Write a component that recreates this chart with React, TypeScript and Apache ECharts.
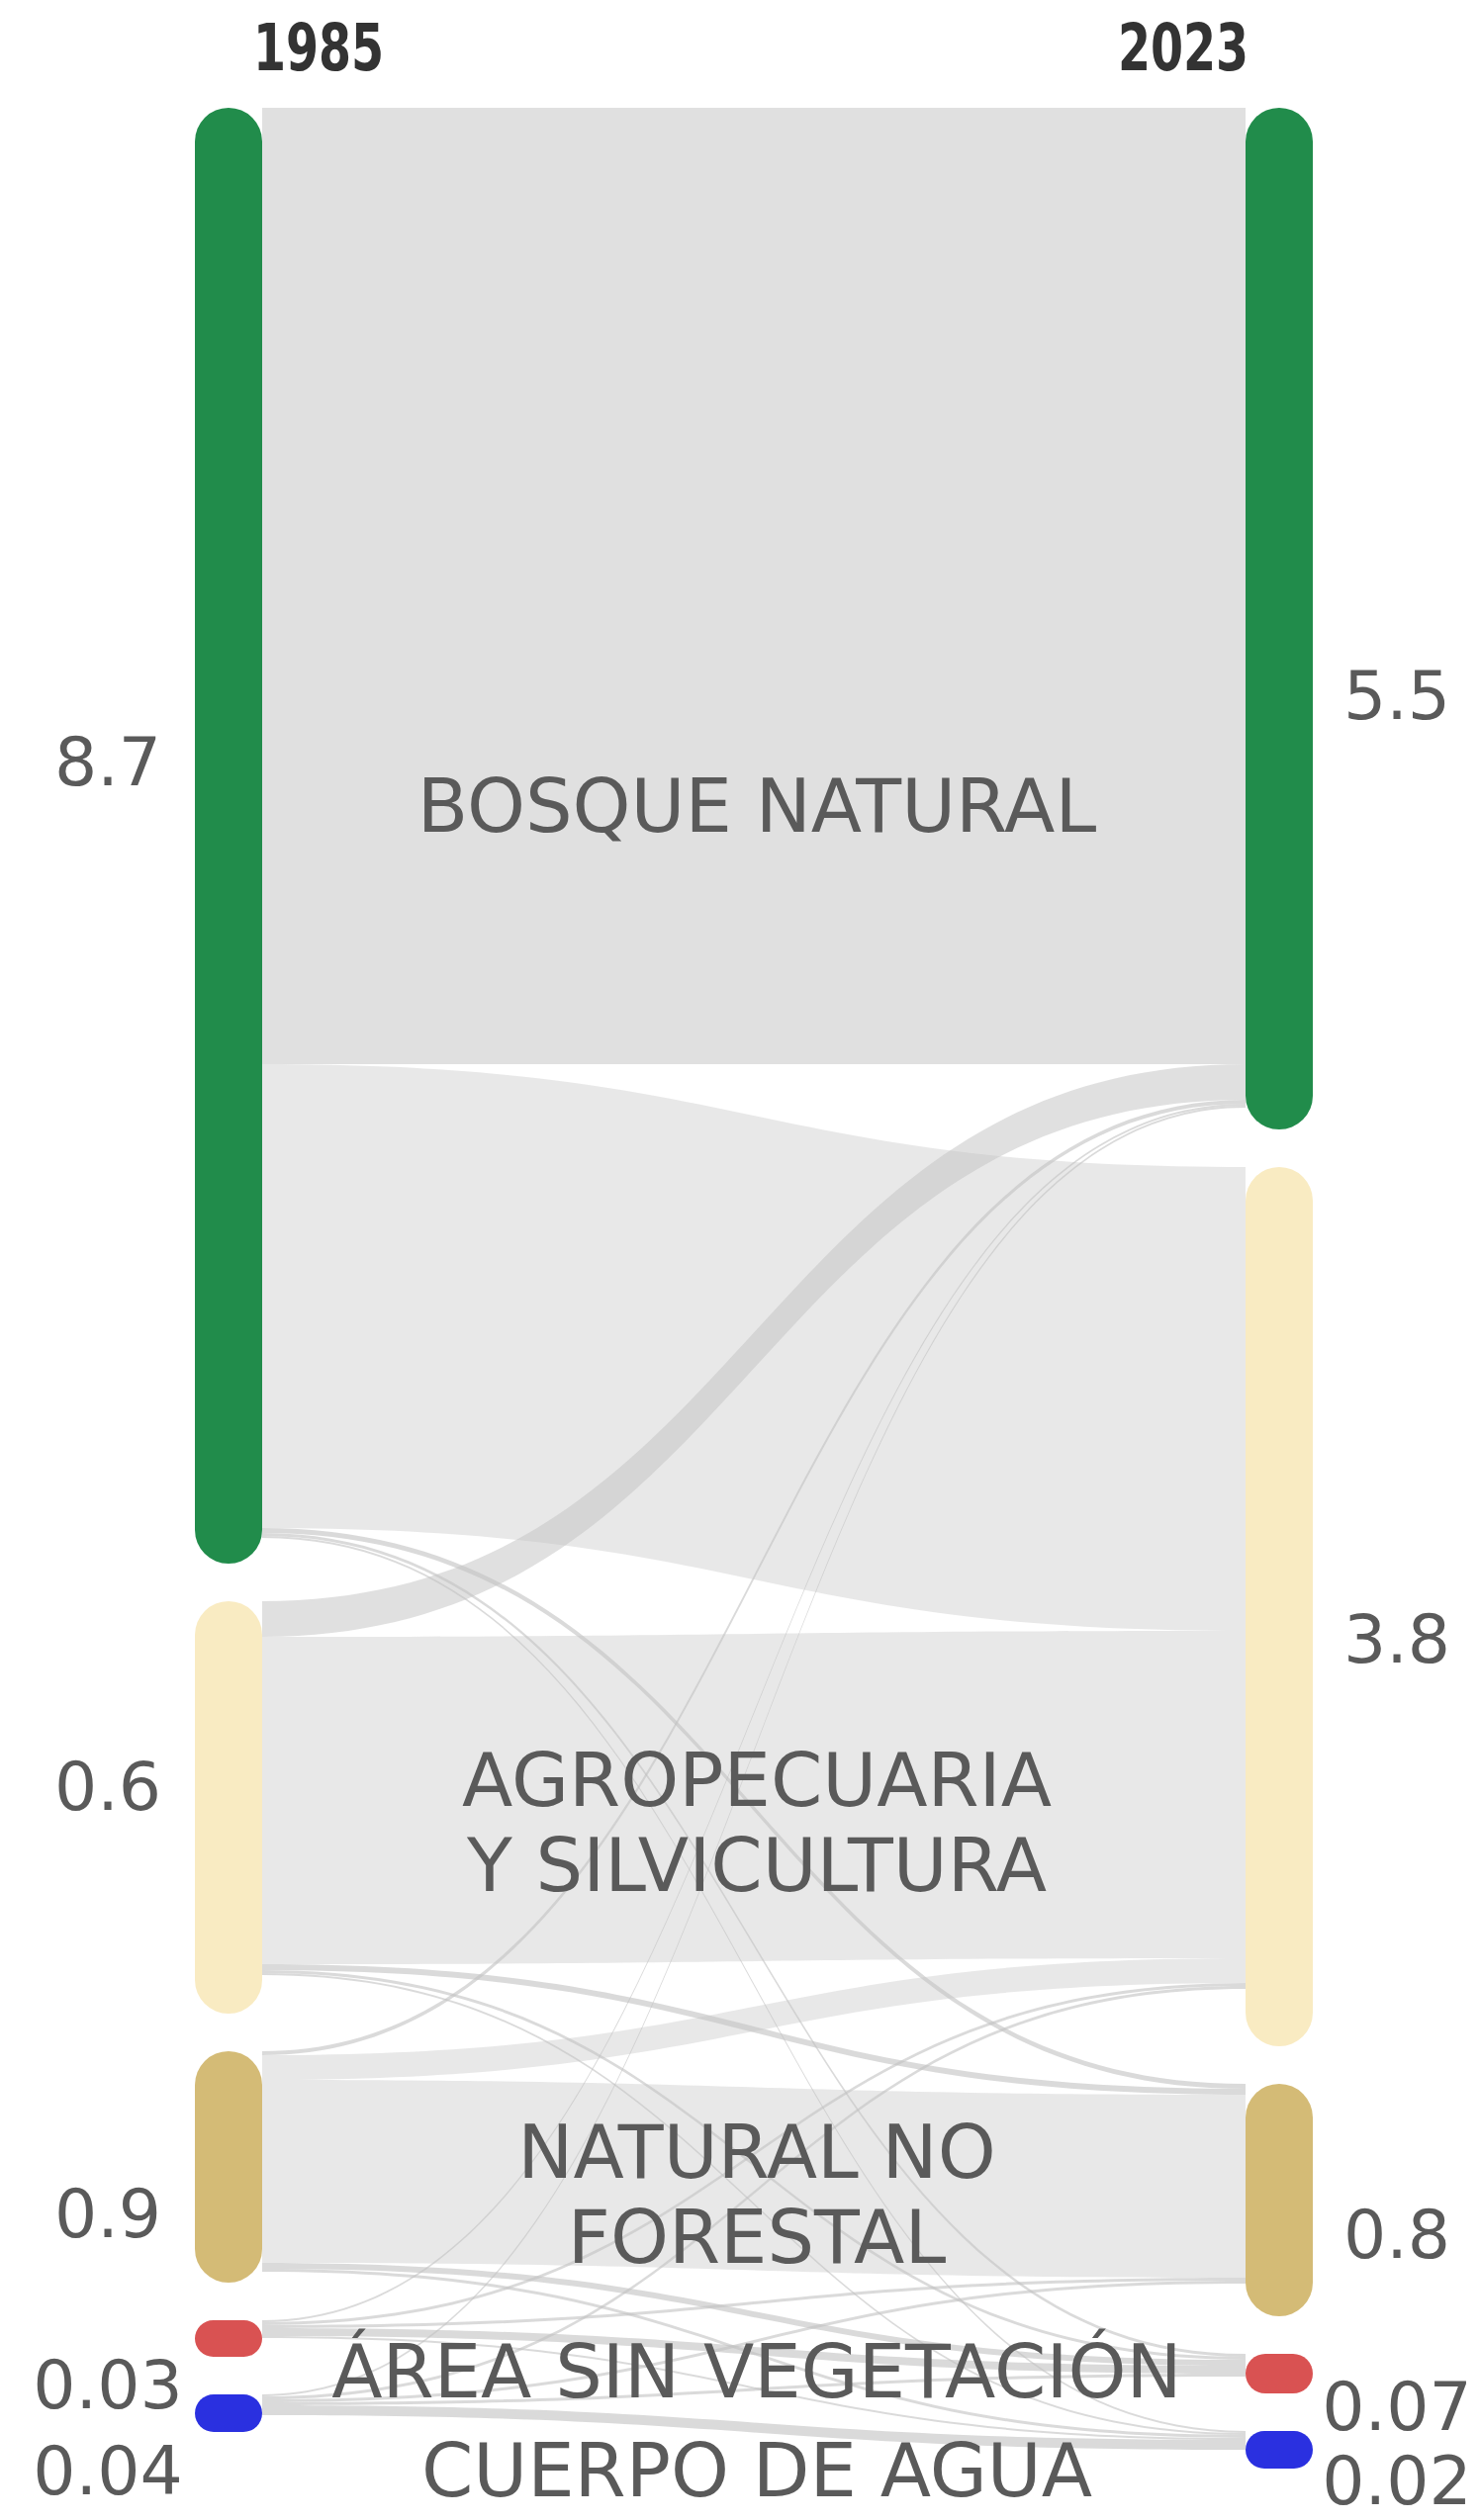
import React, { useEffect, useRef } from "react";
import * as echarts from "echarts";

// ---- data ----
const years = ["1985", "2023"];
const categories = [
  "BOSQUE NATURAL",
  "AGROPECUARIA Y SILVICULTURA",
  "NATURAL NO FORESTAL",
  "ÁREA SIN VEGETACIÓN",
  "CUERPO DE AGUA",
];
const categoryLines = [
  ["BOSQUE NATURAL"],
  ["AGROPECUARIA", "Y SILVICULTURA"],
  ["NATURAL NO", "FORESTAL"],
  ["ÁREA SIN VEGETACIÓN"],
  ["CUERPO DE AGUA"],
];
const labels1985 = ["8.7", "0.6", "0.9", "0.03", "0.04"];
const labels2023 = ["5.5", "3.8", "0.8", "0.07", "0.02"];
// drawn node sizes (relative units as seen in the picture)
const nodeSize1985 = [1472, 417, 234, 37, 38];
const nodeSize2023 = [1033, 889, 235, 40, 38];
// flow widths: rows = class in 1985, columns = class in 2023
const flows = [
  [967, 469, 5, 3, 2],
  [36, 331, 6, 3, 2],
  [4, 25, 185, 6, 3],
  [2, 3, 3, 8, 2],
  [2, 3, 3, 3, 10],
];
const nodeColors = ["#218c4b", "#f9ebc2", "#d4bb76", "#d95252", "#2a30e0"];

// ---- styling / layout ----
const W = 1496;
const H = 2548;
const TEXT = "#5a5a5a";
const FONT = '"DejaVu Sans", sans-serif';
const YEAR_FONT = '"DejaVu Sans Condensed", "DejaVu Sans", sans-serif';
const labelCenterY = [815, 1843, 2219, 2398, 2498];
const leftValueY = [770, 1806, 2238, 2411, 2498];
const rightValueY = [703, 1657, 2259, 2433, 2508];

export default function App() {
  const ref = useRef<HTMLDivElement>(null);

  useEffect(() => {
    if (!ref.current) return;
    const chart = echarts.init(ref.current, undefined, { renderer: "svg" });

    const nodes: any[] = [];
    categories.forEach((c, i) => {
      nodes.push({
        name: `${c} ${years[0]}`,
        value: nodeSize1985[i],
        itemStyle: { color: nodeColors[i], borderRadius: 34 },
      });
    });
    categories.forEach((c, i) => {
      nodes.push({
        name: `${c} ${years[1]}`,
        value: nodeSize2023[i],
        itemStyle: { color: nodeColors[i], borderRadius: 34 },
      });
    });

    const links: any[] = [];
    flows.forEach((row, i) => {
      row.forEach((v, j) => {
        const strong = (i === 0 && j === 0) || (i === 1 && j === 0);
        const thin = v < 20;
        links.push({
          source: `${categories[i]} ${years[0]}`,
          target: `${categories[j]} ${years[1]}`,
          value: v,
          lineStyle: { opacity: strong ? 0.5 : thin ? 0.6 : 0.38 },
        });
      });
    });

    const graphics: any[] = [];
    [322, 1196].forEach((x, k) => {
      graphics.push({
        type: "text",
        x,
        y: 48,
        scaleX: 0.8,
        style: {
          text: years[k],
          fontSize: 66,
          fontWeight: "bold",
          fontFamily: YEAR_FONT,
          fill: "#333333",
          align: "center",
          verticalAlign: "middle",
        },
      });
    });
    categoryLines.forEach((lines, i) => {
      graphics.push({
        type: "text",
        x: 765,
        y: labelCenterY[i],
        z: 100,
        style: {
          text: lines.join("\n"),
          fontSize: 75,
          lineHeight: 86,
          fontFamily: FONT,
          fill: TEXT,
          align: "center",
          verticalAlign: "middle",
        },
      });
    });
    labels1985.forEach((t, i) => {
      graphics.push({
        type: "text",
        x: 109,
        y: leftValueY[i],
        style: {
          text: t,
          fontSize: 68,
          fontFamily: FONT,
          fill: TEXT,
          align: "center",
          verticalAlign: "middle",
        },
      });
    });
    labels2023.forEach((t, i) => {
      graphics.push({
        type: "text",
        x: 1412,
        y: rightValueY[i],
        style: {
          text: t,
          fontSize: 68,
          fontFamily: FONT,
          fill: TEXT,
          align: "center",
          verticalAlign: "middle",
        },
      });
    });

    chart.setOption({
      animation: false,
      backgroundColor: "#ffffff",
      series: [
        {
          type: "sankey",
          left: 197,
          right: 169,
          top: 109,
          bottom: 52,
          nodeWidth: 68,
          nodeGap: 38,
          layoutIterations: 0,
          draggable: false,
          emphasis: { disabled: true },
          label: { show: false },
          data: nodes,
          links,
          lineStyle: { color: "#c2c2c2", opacity: 0.38, curveness: 0.5 },
        },
      ],
      graphic: graphics,
    });

    return () => chart.dispose();
  }, []);

  return (
    <div
      ref={ref}
      style={{ position: "absolute", left: 0, top: 0, width: W, height: H }}
    />
  );
}
